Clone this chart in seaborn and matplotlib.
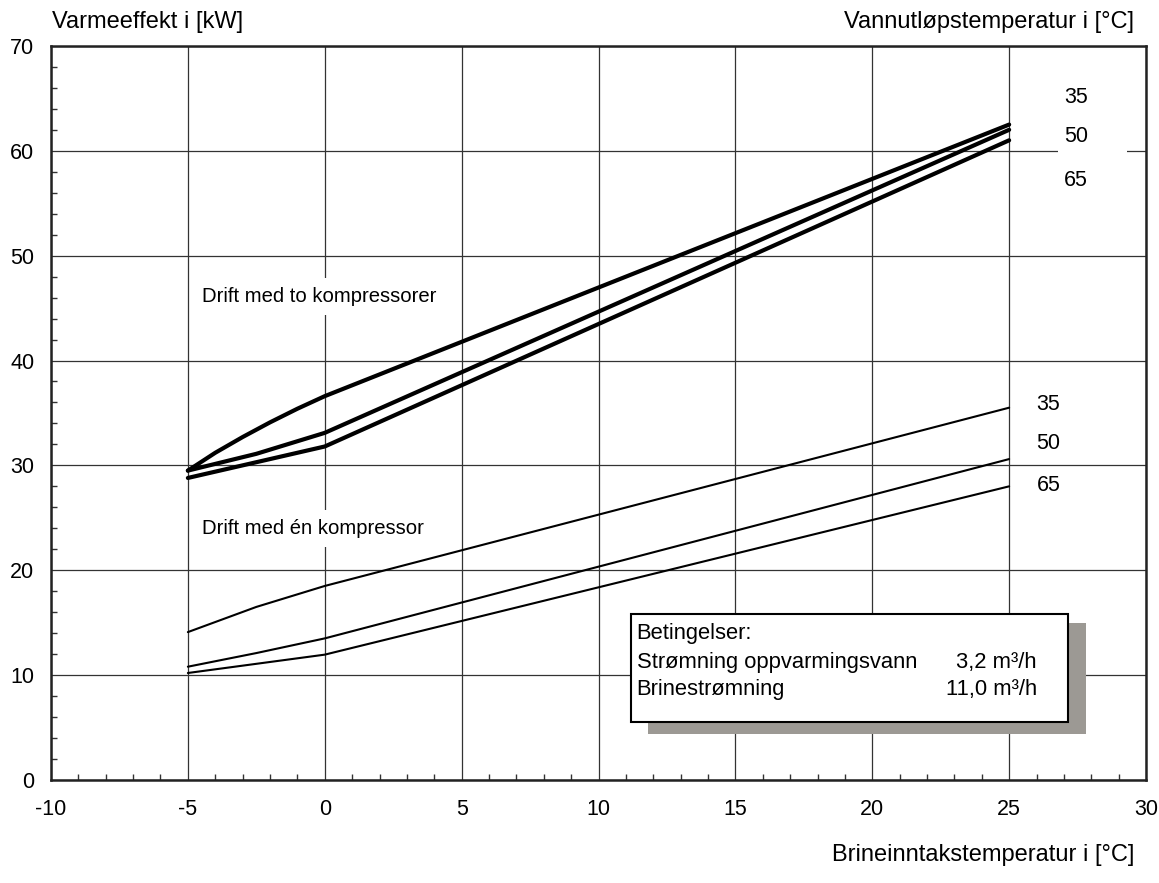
import pandas as pd
import matplotlib.pyplot as plt
import seaborn as sns
from matplotlib.patches import Rectangle
from matplotlib.ticker import MultipleLocator

# Heating output vs. brine inlet temperature
# two compressors (thick lines)
x_to_35 = [-5, -4, -3, -2, -1, 0, 25]
y_to_35 = [29.5, 31.2, 32.7, 34.1, 35.4, 36.6, 62.5]
x_to_50 = [-5, -2.5, 0, 25]
y_to_50 = [29.5, 31.1, 33.1, 62.0]
x_to_65 = [-5, 0, 25]
y_to_65 = [28.8, 31.8, 61.0]

# one compressor (thin lines)
x_en_35 = [-5, -2.5, 0, 25]
y_en_35 = [14.1, 16.5, 18.5, 35.5]
x_en_50 = [-5, -2.5, 0, 25]
y_en_50 = [10.8, 12.1, 13.5, 30.6]
x_en_65 = [-5, 0, 25]
y_en_65 = [10.2, 11.95, 28.0]

temps = ["35", "50", "65"]


def long_df(xs, ys):
    rows = []
    for t, xv, yv in zip(temps, xs, ys):
        for a, b in zip(xv, yv):
            rows.append({"brine": a, "kw": b, "temp": t})
    return pd.DataFrame(rows)


df_to = long_df([x_to_35, x_to_50, x_to_65], [y_to_35, y_to_50, y_to_65])
df_en = long_df([x_en_35, x_en_50, x_en_65], [y_en_35, y_en_50, y_en_65])

sns.set_style("ticks")
plt.rcParams["font.family"] = ["Liberation Sans", "DejaVu Sans"]
plt.rcParams["axes.unicode_minus"] = False
plt.rcParams["text.color"] = "black"
plt.rcParams["xtick.color"] = "black"
plt.rcParams["ytick.color"] = "black"

fig = plt.figure(figsize=(11.59, 8.83), dpi=100)
ax = fig.add_axes([0.044, 0.1167, 0.9448, 0.8313])

sns.lineplot(data=df_to, x="brine", y="kw", units="temp", estimator=None,
             color="black", lw=3.0, sort=False, ax=ax, zorder=3)
sns.lineplot(data=df_en, x="brine", y="kw", units="temp", estimator=None,
             color="black", lw=1.5, sort=False, ax=ax, zorder=3)

ax.set_xlim(-10, 30)
ax.set_ylim(0, 70)
ax.xaxis.set_major_locator(MultipleLocator(5))
ax.xaxis.set_minor_locator(MultipleLocator(1))
ax.yaxis.set_major_locator(MultipleLocator(10))
ax.yaxis.set_minor_locator(MultipleLocator(2))
ax.grid(True, which="major", color="#333333", lw=0.9)
ax.set_axisbelow(True)
ax.tick_params(which="major", length=0, labelsize=15.5, labelcolor="black")
ax.tick_params(axis="x", which="major", pad=14)
ax.tick_params(axis="y", which="major", pad=12)
ax.tick_params(which="minor", direction="in", length=4.5, width=1, color="#333333")
for s in ax.spines.values():
    s.set_visible(True)
    s.set_linewidth(1.8)
    s.set_color("#222222")
ax.set_xlabel("")
ax.set_ylabel("")

# curve labels
for t, yy in zip(temps, [65.1, 61.4, 57.2]):
    ax.text(27.0, yy, t, ha="left", va="center", fontsize=15.5)
for t, yy in zip(temps, [35.8, 32.1, 28.1]):
    ax.text(26.0, yy, t, ha="left", va="center", fontsize=15.5)
ax.add_patch(Rectangle((26.8, 59.4), 2.5, 3.2, facecolor="white",
                       edgecolor="none", zorder=1.5))

ax.text(-4.48, 46.1, "Drift med to kompressorer", ha="left", va="center",
        fontsize=14.6, bbox=dict(boxstyle="square,pad=0.45", fc="white", ec="none"),
        zorder=2)
ax.text(-4.48, 24.0, "Drift med én kompressor", ha="left", va="center",
        fontsize=14.6, bbox=dict(boxstyle="square,pad=0.45", fc="white", ec="none"),
        zorder=2)

# conditions box with shadow
ax.add_patch(Rectangle((11.81, 4.39), 16.01, 10.58, facecolor="#9c9994",
                       edgecolor="none", zorder=4))
ax.add_patch(Rectangle((11.2, 5.53), 15.95, 10.3, facecolor="white",
                       edgecolor="black", lw=1.5, zorder=5))
ax.text(11.39, 13.92, "Betingelser:", ha="left", va="center", fontsize=15.8, zorder=6)
ax.text(11.39, 11.16, "Strømning oppvarmingsvann", ha="left", va="center",
        fontsize=15.8, zorder=6)
ax.text(11.39, 8.58, "Brinestrømning", ha="left", va="center", fontsize=15.8, zorder=6)
ax.text(26.01, 11.16, "3,2 m³/h", ha="right", va="center", fontsize=15.8, zorder=6)
ax.text(26.01, 8.58, "11,0 m³/h", ha="right", va="center", fontsize=15.8, zorder=6)

fig.text(52 / 1159, 1 - 22 / 883, "Varmeeffekt i [kW]", ha="left", va="center",
         fontsize=17)
fig.text(1134 / 1159, 1 - 22 / 883, "Vannutløpstemperatur i [°C]", ha="right",
         va="center", fontsize=17)
fig.text(1134 / 1159, 1 - 855 / 883, "Brineinntakstemperatur i [°C]", ha="right",
         va="center", fontsize=17)

fig.savefig("out.png", dpi=100, facecolor="white")
